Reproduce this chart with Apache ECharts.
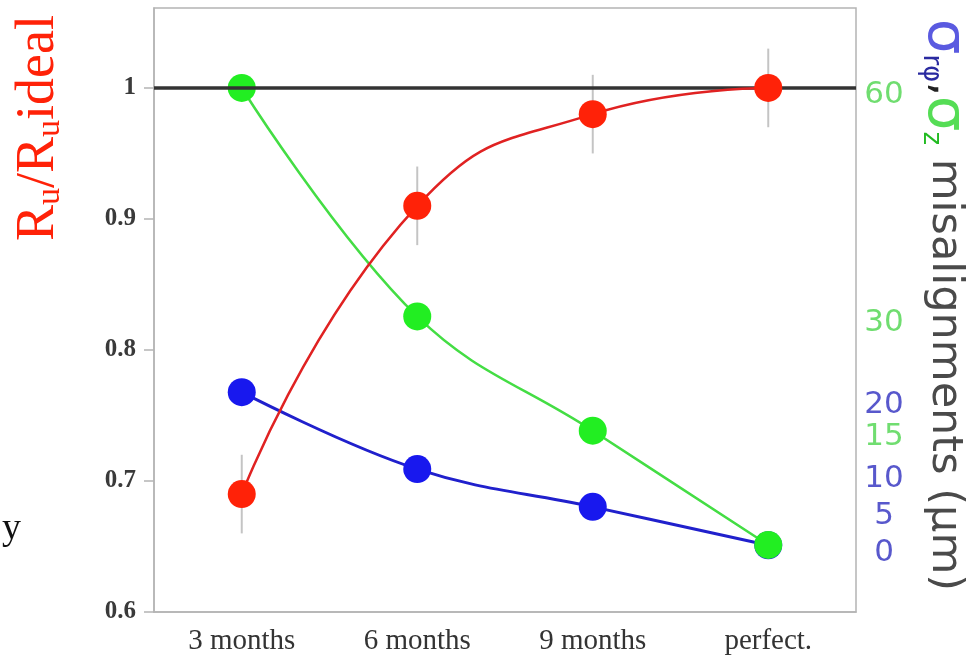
<!DOCTYPE html>
<html>
<head>
<meta charset="utf-8">
<script src="https://cdn.jsdelivr.net/npm/echarts@6/dist/echarts.min.js"></script>
<style>
  html, body { margin: 0; padding: 0; background: #fff; }
  #chart { width: 968px; height: 663px; }
</style>
</head>
<body>
<div id="chart"></div>
<script>
// Alignment scenarios along the x axis
const categories = ['3 months', '6 months', '9 months', 'perfect.'];

// Relative resolution R_u / R_u(ideal) with its uncertainty
const ratio = [0.69, 0.91, 0.98, 1.0];
const ratioErr = [0.03, 0.03, 0.03, 0.03];

// Misalignment widths in micrometres
const sigmaZ = [60, 30, 15, 0];
const sigmaRPhi = [21.2, 10.8, 5.7, 0.5];

// Tick values for each axis
const ratioTicks = [0.6, 0.7, 0.8, 0.9, 1];
const sigmaZTicks = [15, 30, 60];
const sigmaRPhiTicks = [0, 5, 10, 20];

const RED = '#ff2208';
const GREEN = '#22ee22';
const BLUE = '#1818ee';
const SERIF = '"Liberation Serif", "DejaVu Serif", serif';
const SANS = '"DejaVu Sans", "Noto Sans", sans-serif';

const chart = echarts.init(document.getElementById('chart'), null, { renderer: 'canvas' });

// Right-hand tick label: nudged a little below its tick
const rightLabel = (color, drop) => ({
  margin: 28, align: 'center',
  formatter: v => '{t|' + v + '}',
  rich: { t: { fontFamily: SANS, fontSize: 31, color: color, padding: [drop, 0, 0, 0] } }
});

const option = {
  backgroundColor: '#fff',
  animation: false,
  grid: {
    left: 154, right: 112, top: 8, bottom: 51,
    show: true, borderColor: '#b4b4b4', borderWidth: 1.5
  },
  xAxis: {
    type: 'category',
    data: categories,
    axisLine: { onZero: false, lineStyle: { color: '#b4b4b4', width: 1.5 } },
    axisTick: { length: 11, lineStyle: { color: '#b4b4b4', width: 1.5 } },
    axisLabel: { fontFamily: SERIF, fontSize: 29, color: '#333', margin: 15 }
  },
  yAxis: [
    {
      type: 'value', min: 0.6, max: 1.061, position: 'left',
      splitLine: { show: false },
      axisLine: { show: true, lineStyle: { color: '#b4b4b4', width: 1.5 } },
      axisTick: { show: true, length: 10, customValues: ratioTicks, lineStyle: { color: '#b4b4b4', width: 1.5 } },
      axisLabel: {
        customValues: ratioTicks, margin: 18,
        fontFamily: SERIF, fontSize: 25, fontWeight: 'bold', color: '#3a3a3a',
        formatter: v => (v === 1 ? '1' : v.toFixed(1))
      }
    },
    {
      type: 'value', min: -8.8, max: 70.5, position: 'right',
      splitLine: { show: false },
      axisLine: { show: false },
      axisTick: { show: false },
      axisLabel: Object.assign({ customValues: sigmaZTicks }, rightLabel('#70dd70', 13))
    },
    {
      type: 'value', min: -8.51, max: 73.11, position: 'right',
      splitLine: { show: false },
      axisLine: { show: false },
      axisTick: { show: false },
      axisLabel: Object.assign({ customValues: sigmaRPhiTicks }, rightLabel('#5858cc', 8))
    }
  ],
  graphic: [
    {
      type: 'text', x: 39, y: 128, rotation: Math.PI / 2,
      style: {
        text: 'R{s|u}/R{s|u}ideal',
        font: '54px ' + SERIF, fill: RED,
        align: 'center', verticalAlign: 'middle',
        rich: { s: { fontSize: 34, fontFamily: SERIF, fill: RED, verticalAlign: 'bottom', padding: [22, 0, 0, 0] } }
      }
    },
    {
      type: 'text', x: 944, y: 305, rotation: -Math.PI / 2,
      style: {
        text: '{b|σ}{bs|rφ}{c|,}{g|σ}{gs|z} misalignments (μm)',
        font: '43px ' + SANS, fill: '#4a4a4a',
        align: 'center', verticalAlign: 'middle',
        rich: {
          b: { fontSize: 56, fontFamily: SANS, fill: '#5a5ae0' },
          bs: { fontSize: 26, fontFamily: SANS, fill: '#2a2aa0', padding: [26, 0, 0, 0] },
          c: { fontSize: 43, fontFamily: SANS, fill: '#222' },
          g: { fontSize: 56, fontFamily: SANS, fill: '#55dd55' },
          gs: { fontSize: 26, fontFamily: SANS, fill: '#22bb22', padding: [26, 0, 0, 0] }
        }
      }
    },
    {
      type: 'text', left: 2, top: 510,
      style: { text: 'y', font: '38px ' + SERIF, fill: '#111' }
    }
  ],
  series: [
    {
      name: 'ideal', type: 'line', yAxisIndex: 0, data: [], z: 1, silent: true,
      markLine: {
        silent: true, symbol: 'none', label: { show: false },
        lineStyle: { color: '#333', width: 3.5, type: 'solid' },
        data: [{ yAxis: 1 }]
      }
    },
    {
      name: 'ratioErr', type: 'custom', yAxisIndex: 0, z: 2, silent: true,
      data: ratio.map((v, i) => [i, v - ratioErr[i], v + ratioErr[i]]),
      renderItem: (params, api) => {
        const lo = api.coord([api.value(0), api.value(1)]);
        const hi = api.coord([api.value(0), api.value(2)]);
        return {
          type: 'line',
          shape: { x1: lo[0], y1: lo[1], x2: hi[0], y2: hi[1] },
          style: { stroke: '#c4c4c4', lineWidth: 2 }
        };
      }
    },
    {
      name: 'sigmaRPhi', type: 'line', yAxisIndex: 2, data: sigmaRPhi, z: 3,
      smooth: 0.4, symbol: 'circle', symbolSize: 28,
      itemStyle: { color: BLUE },
      lineStyle: { color: '#2020cc', width: 3 }
    },
    {
      name: 'sigmaZ', type: 'line', yAxisIndex: 1, data: sigmaZ, z: 4,
      smooth: 0.4, symbol: 'circle', symbolSize: 28,
      itemStyle: { color: GREEN },
      lineStyle: { color: '#44dd44', width: 2.5 }
    },
    {
      name: 'ratio', type: 'line', yAxisIndex: 0, data: ratio, z: 5,
      smooth: 0.5, symbol: 'circle', symbolSize: 28,
      itemStyle: { color: RED },
      lineStyle: { color: '#e02222', width: 2.5 }
    }
  ]
};

chart.setOption(option);
</script>
</body>
</html>
